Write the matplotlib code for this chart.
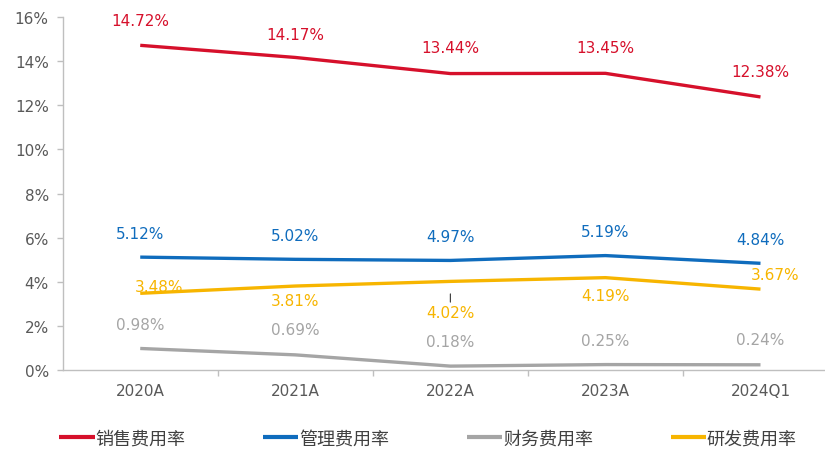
import matplotlib
matplotlib.use("Agg")
import matplotlib.pyplot as plt
from matplotlib.ticker import FixedLocator, PercentFormatter

plt.rcParams['font.family'] = ['DejaVu Sans', 'Noto Sans CJK SC']

categories = ["2020A", "2021A", "2022A", "2023A", "2024Q1"]
sales = [14.72, 14.17, 13.44, 13.45, 12.38]
admin = [5.12, 5.02, 4.97, 5.19, 4.84]
finance = [0.98, 0.69, 0.18, 0.25, 0.24]
rnd = [3.48, 3.81, 4.02, 4.19, 3.67]
series_names = ["销售费用率", "管理费用率", "财务费用率", "研发费用率"]

colors = ["#D6102B", "#0F6CBD", "#A5A5A5", "#F7B500"]

fig = plt.figure(figsize=(8.25, 4.52), dpi=100)
ax = fig.add_axes([0.076, 0.179, 0.924, 0.781])

x = list(range(len(categories)))
all_series = [sales, admin, finance, rnd]
for vals, c, name in zip(all_series, colors, series_names):
    ax.plot(x, vals, color=c, lw=2.4, label=name, solid_capstyle='butt')

# label offsets in pixels (dx, dy) relative to each point
offsets = {
    0: [(0, 25), (0, 23), (0, 26), (0, 26), (0, 25)],
    1: [(0, 24), (0, 24), (0, 24), (0, 24), (0, 24)],
    2: [(0, 24), (0, 25), (0, 25), (0, 24), (0, 25)],
    3: [(19, 7), (0, -14), (0, -31), (0, -18), (15, 15)],
}
for si, (vals, c) in enumerate(zip(all_series, colors)):
    for i, v in enumerate(vals):
        dx, dy = offsets[si][i]
        kw = {}
        if si == 3 and i == 2:
            kw['arrowprops'] = dict(arrowstyle='-', color='#333333', lw=0.8,
                                    shrinkA=0, shrinkB=9)
        ax.annotate(f"{v:.2f}%", xy=(i, v), xytext=(dx * 0.72, dy * 0.72),
                    textcoords='offset points', ha='center', va='center',
                    color=c, fontsize=11, **kw)

ax.set_ylim(0, 16)
ax.set_yticks(range(0, 17, 2))
ax.yaxis.set_major_formatter(PercentFormatter(decimals=0))
ax.set_xlim(-0.5, 4.416)
ax.set_xticks(x)
ax.set_xticklabels(categories)
ax.xaxis.set_minor_locator(FixedLocator([0.5, 1.5, 2.5, 3.5]))
ax.tick_params(axis='x', which='major', length=0, pad=9, labelsize=11, labelcolor='#595959')
ax.tick_params(axis='x', which='minor', length=4, color='#BFBFBF', width=1)
ax.tick_params(axis='y', length=4, color='#BFBFBF', width=1, pad=6, labelsize=11, labelcolor='#595959')

for s in ['top', 'right']:
    ax.spines[s].set_visible(False)
for s in ['left', 'bottom']:
    ax.spines[s].set_color('#BFBFBF')
    ax.spines[s].set_linewidth(1)

leg = fig.legend(loc='center', bbox_to_anchor=(0.519, 0.027), ncol=4, frameon=False,
                 prop={'family': ['Noto Sans CJK SC', 'DejaVu Sans'], 'size': 13},
                 handlelength=1.95, handletextpad=0.05, columnspacing=4.3,
                 labelcolor='#404040')
for h in leg.legend_handles:
    h.set_linewidth(3)

fig.savefig("out.png", dpi=100)
